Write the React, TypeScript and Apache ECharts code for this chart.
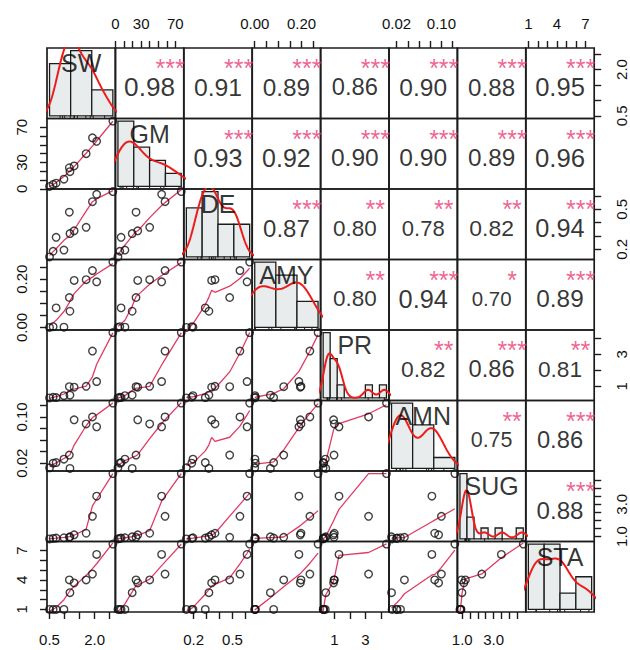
import React, { useEffect, useRef } from "react";
import * as echarts from "echarts";

const VAR_NAMES = ["SW", "GM", "DE", "AMY", "PR", "AMN", "SUG", "STA"];

const SW = [0.5, 0.62, 0.72, 0.98, 1.16, 1.18, 1.32, 1.72, 1.93, 2.07, 2.61];
const GM = [2.8, 5, 6.5, 11, 24, 19.5, 26, 40, 58, 54, 77];
const DE = [0.144, 0.186, 0.29, 0.195, 0.478, 0.318, 0.339, 0.365, 0.557, 0.612, 0.632];
const AMY = [0.0, 0.003, 0.081, 0.001, 0.124, 0.067, 0.195, 0.198, 0.236, 0.189, 0.271];
const PR = [0.28, 0.32, 0.3, 0.42, 0.98, 0.45, 0.95, 1.0, 3.2, 1.3, 4.35];
const AMN = [0.012, 0.02, 0.021, 0.027, 0.034, 0.011, 0.095, 0.088, 0.1, 0.083, 0.124];
const SUG = [0.85, 0.88, 0.9, 0.92, 0.95, 0.98, 1.1, 1.2, 2.25, 3.5, 4.9];
const STA = [1, 1, 1, 1, 4, 2.7, 3.7, 4.0, 4.6, 6.6, 7.65];

// histogram breaks
const SW_BREAKS = [0, 1, 2, 3];
const GM_BREAKS = [0, 20, 40, 60, 80];
const DE_BREAKS = [0, 0.2, 0.4, 0.6, 0.8];
const AMY_BREAKS = [0, 0.1, 0.2, 0.3];
const PR_BREAKS = [0, 0.5, 1, 1.5, 2, 2.5, 3, 3.5, 4, 4.5];
const AMN_BREAKS = [0, 0.05, 0.1, 0.15];
const SUG_BREAKS = [0.5, 1, 1.5, 2, 2.5, 3, 3.5, 4, 4.5, 5];
const STA_BREAKS = [0, 2, 4, 6, 8];

// axis ticks and the labels shown
const SW_TICKS = [0.5, 1, 1.5, 2, 2.5];
const SW_LABELS = [0.5, 2.0];
const GM_TICKS = [0, 10, 20, 30, 40, 50, 60, 70];
const GM_LABELS = [0, 30, 70];
const DE_TICKS = [0.2, 0.3, 0.4, 0.5, 0.6];
const DE_LABELS = [0.2, 0.5];
const AMY_TICKS = [0, 0.05, 0.1, 0.15, 0.2, 0.25];
const AMY_LABELS = [0, 0.2];
const PR_TICKS = [1, 2, 3, 4];
const PR_LABELS = [1, 3];
const AMN_TICKS = [0.02, 0.04, 0.06, 0.08, 0.1, 0.12];
const AMN_LABELS = [0.02, 0.1];
const SUG_TICKS = [1, 1.5, 2, 2.5, 3, 3.5, 4, 4.5];
const SUG_LABELS = [1, 3];
const STA_TICKS = [1, 2, 3, 4, 5, 6, 7];
const STA_LABELS = [1, 4, 7];
const LABEL_DECIMALS = [1, 0, 1, 2, 0, 2, 1, 0];

// correlations (upper triangle, row by row) and significance stars
const CORR_ROWS = [
  [0.98, 0.91, 0.89, 0.86, 0.9, 0.88, 0.95],
  [0.93, 0.92, 0.9, 0.9, 0.89, 0.96],
  [0.87, 0.8, 0.78, 0.82, 0.94],
  [0.8, 0.94, 0.7, 0.89],
  [0.82, 0.86, 0.81],
  [0.75, 0.86],
  [0.88],
];
const STARS_ROWS = [
  ["***", "***", "***", "***", "***", "***", "***"],
  ["***", "***", "***", "***", "***", "***"],
  ["***", "**", "**", "**", "***"],
  ["**", "***", "*", "***"],
  ["**", "***", "**"],
  ["**", "***"],
  ["***"],
];

const VARS = [SW, GM, DE, AMY, PR, AMN, SUG, STA];
const BREAKS = [SW_BREAKS, GM_BREAKS, DE_BREAKS, AMY_BREAKS, PR_BREAKS, AMN_BREAKS, SUG_BREAKS, STA_BREAKS];
const TICKS = [SW_TICKS, GM_TICKS, DE_TICKS, AMY_TICKS, PR_TICKS, AMN_TICKS, SUG_TICKS, STA_TICKS];
const LABELS = [SW_LABELS, GM_LABELS, DE_LABELS, AMY_LABELS, PR_LABELS, AMN_LABELS, SUG_LABELS, STA_LABELS];

// ---- layout / style ----
const CELL_LEFT = 47;
const CELL_TOP = 48;
const CELL_W = 68.4;
const CELL_H = 70.5;
const FONT = "'Liberation Sans', Arial, Helvetica, sans-serif";
const BOX = "#1c1c1c";
const HIST_FILL = "#E8ECEC";
const SMOOTH_COLOR = "#E23A62";
const DENS_COLOR = "#EE1B1B";
const STAR_COLOR = "#E93C76";
const CORR_FONT_BASE = 26.6;

// ---- statistics helpers ----
function padRange(lo: number, hi: number): [number, number] {
  const d = (hi - lo) * 0.04;
  return [lo - d, hi + d];
}

function quantile7(sorted: number[], p: number) {
  const n = sorted.length;
  const h = (n - 1) * p;
  const lo = Math.floor(h);
  const hi = Math.min(lo + 1, n - 1);
  return sorted[lo] + (h - lo) * (sorted[hi] - sorted[lo]);
}

function bwNrd0(x: number[]) {
  const n = x.length;
  const mean = x.reduce((a, b) => a + b, 0) / n;
  const sd = Math.sqrt(x.reduce((a, b) => a + (b - mean) * (b - mean), 0) / (n - 1));
  const s = x.slice().sort((a, b) => a - b);
  const iqr = quantile7(s, 0.75) - quantile7(s, 0.25);
  let lo = Math.min(sd, iqr / 1.34);
  if (!lo) lo = sd || Math.abs(x[0]) || 1;
  return 0.9 * lo * Math.pow(n, -0.2);
}

function densityLine(x: number[]) {
  const n = x.length;
  const bw = bwNrd0(x);
  const mn = Math.min(...x);
  const mx = Math.max(...x);
  const lo = mn - 3 * bw;
  const hi = mx + 3 * bw;
  const pts: number[][] = [];
  const k = 1 / (n * bw * Math.sqrt(2 * Math.PI));
  for (let i = 0; i < 512; i++) {
    const t = lo + ((hi - lo) * i) / 511;
    let s = 0;
    for (const v of x) {
      const z = (t - v) / bw;
      s += Math.exp(-0.5 * z * z);
    }
    pts.push([t, s * k]);
  }
  return pts;
}

function histogram(x: number[], br: number[]) {
  const n = x.length;
  const out: number[][] = [];
  for (let j = 0; j < br.length - 1; j++) {
    let c = 0;
    for (const v of x) {
      if ((v > br[j] && v <= br[j + 1]) || (j === 0 && v === br[0])) c++;
    }
    out.push([br[j], br[j + 1], c / (n * (br[j + 1] - br[j]))]);
  }
  return out;
}

// port of R's clowess (f = 2/3, iter = 3)
function lowess(xs0: number[], ys0: number[], f = 2 / 3, iter = 3): number[][] {
  const n = xs0.length;
  const order = xs0.map((_, i) => i).sort((a, b) => xs0[a] - xs0[b] || a - b);
  const x = order.map((i) => xs0[i]);
  const y = order.map((i) => ys0[i]);
  const ns = Math.max(2, Math.min(n, Math.floor(f * n + 1e-7)));
  const range = x[n - 1] - x[0];
  const delta = 0.01 * range;
  const ysm = new Array(n).fill(0);
  const rw = new Array(n).fill(1);
  const res = new Array(n).fill(0);
  const w = new Array(n).fill(0);

  const lowest = (xs: number, nleft: number, nright: number, userw: boolean): [number, boolean] => {
    const h = Math.max(xs - x[nleft], x[nright] - xs);
    const h9 = 0.999 * h;
    const h1 = 0.001 * h;
    let a = 0;
    let j = nleft;
    while (j < n) {
      w[j] = 0;
      const r = Math.abs(x[j] - xs);
      if (r <= h9) {
        if (r <= h1) w[j] = 1;
        else w[j] = Math.pow(1 - Math.pow(r / h, 3), 3);
        if (userw) w[j] *= rw[j];
        a += w[j];
      } else if (x[j] > xs) break;
      j++;
    }
    const nrt = j - 1;
    if (a <= 0) return [0, false];
    for (j = nleft; j <= nrt; j++) w[j] /= a;
    if (h > 0) {
      a = 0;
      for (j = nleft; j <= nrt; j++) a += w[j] * x[j];
      let b = xs - a;
      let c = 0;
      for (j = nleft; j <= nrt; j++) c += w[j] * (x[j] - a) * (x[j] - a);
      if (Math.sqrt(c) > 0.001 * range) {
        b /= c;
        for (j = nleft; j <= nrt; j++) w[j] *= b * (x[j] - a) + 1;
      }
    }
    let ys = 0;
    for (j = nleft; j <= nrt; j++) ys += w[j] * y[j];
    return [ys, true];
  };

  for (let it = 1; it <= iter + 1; it++) {
    let nleft = 0;
    let nright = ns - 1;
    let last = -1;
    let i = 0;
    for (;;) {
      if (nright < n - 1) {
        const d1 = x[i] - x[nleft];
        const d2 = x[nright + 1] - x[i];
        if (d1 > d2) {
          nleft++;
          nright++;
          continue;
        }
      }
      const [val, ok] = lowest(x[i], nleft, nright, it > 1);
      ysm[i] = ok ? val : y[i];
      if (last < i - 1) {
        const denom = x[i] - x[last];
        for (let j = last + 1; j < i; j++) {
          const alpha = (x[j] - x[last]) / denom;
          ysm[j] = alpha * ysm[i] + (1 - alpha) * ysm[last];
        }
      }
      last = i;
      const cut = x[last] + delta;
      for (i = last + 1; i < n; i++) {
        if (x[i] > cut) break;
        if (x[i] === x[last]) {
          ysm[i] = ysm[last];
          last = i;
        }
      }
      i = Math.max(last + 1, i - 1);
      if (last >= n - 1) break;
    }
    let sc = 0;
    for (let k = 0; k < n; k++) {
      res[k] = y[k] - ysm[k];
      sc += Math.abs(res[k]);
    }
    sc /= n;
    if (it > iter) break;
    const sorted = res.map((r) => Math.abs(r)).sort((a, b) => a - b);
    const m1 = Math.floor(n / 2);
    const cmad = n % 2 === 0 ? 3 * (sorted[m1 - 1] + sorted[m1]) : 6 * sorted[m1];
    if (cmad < 1e-7 * sc) break;
    const c9 = 0.999 * cmad;
    const c1 = 0.001 * cmad;
    for (let k = 0; k < n; k++) {
      const r = Math.abs(res[k]);
      rw[k] = r <= c1 ? 1 : r > c9 ? 0 : Math.pow(1 - (r / cmad) * (r / cmad), 2);
    }
  }
  return x.map((xv, k) => [xv, ysm[k]]);
}

function buildOption() {
  const ranges = VARS.map((v) => padRange(Math.min(...v), Math.max(...v)));
  const hists = VARS.map((v, i) => histogram(v, BREAKS[i]));
  const dens = VARS.map((v) => densityLine(v));

  const grids: any[] = [];
  const xAxes: any[] = [];
  const yAxes: any[] = [];
  const series: any[] = [];

  const tickStyle = { show: true, length: 7, inside: false, lineStyle: { color: BOX, width: 1.4 } };
  const labelStyle = { show: true, fontSize: 15, color: "#111", fontFamily: FONT };

  for (let r = 0; r < 8; r++) {
    for (let c = 0; c < 8; c++) {
      const k = r * 8 + c;
      grids.push({
        left: CELL_LEFT + c * CELL_W,
        top: CELL_TOP + r * CELL_H,
        width: CELL_W,
        height: CELL_H,
        show: true,
        borderColor: BOX,
        borderWidth: 1.7,
        backgroundColor: "transparent",
        containLabel: false,
        outerBoundsMode: "none",
      });

      let xr: number[];
      let yr: number[];
      let maxD = 0;
      if (r === c) {
        const br = BREAKS[c];
        xr = padRange(br[0], br[br.length - 1]);
        maxD = Math.max(...hists[c].map((h) => h[2]));
        yr = [-0.04 * maxD, 1.04 * maxD];
      } else {
        xr = ranges[c];
        yr = ranges[r];
      }

      const xAx: any = {
        type: "value",
        gridIndex: k,
        min: xr[0],
        max: xr[1],
        axisLine: { show: false },
        axisTick: { show: false },
        axisLabel: { show: false },
        splitLine: { show: false },
      };
      const yAx: any = {
        type: "value",
        gridIndex: k,
        min: yr[0],
        max: yr[1],
        axisLine: { show: false },
        axisTick: { show: false },
        axisLabel: { show: false },
        splitLine: { show: false },
      };
      if ((r === 7 && c % 2 === 0) || (r === 0 && c % 2 === 1)) {
        const dec = LABEL_DECIMALS[c];
        xAx.position = r === 7 ? "bottom" : "top";
        xAx.axisTick = { ...tickStyle, customValues: TICKS[c] };
        xAx.axisLabel = {
          ...labelStyle,
          customValues: LABELS[c],
          margin: r === 7 ? 20 : 17,
          formatter: (v: number) => v.toFixed(dec),
        };
      }
      if ((c === 0 && r % 2 === 1) || (c === 7 && r % 2 === 0)) {
        const dec = LABEL_DECIMALS[r];
        yAx.position = c === 0 ? "left" : "right";
        yAx.axisTick = { ...tickStyle, customValues: TICKS[r] };
        yAx.axisLabel = {
          ...labelStyle,
          rotate: 90,
          customValues: LABELS[r],
          margin: c === 0 ? 18 : 20,
          formatter: (v: number) => v.toFixed(dec),
        };
      }
      xAxes.push(xAx);
      yAxes.push(yAx);

      if (r > c) {
        // scatter + lowess smooth
        const xv = VARS[c];
        const yv = VARS[r];
        series.push({
          type: "scatter",
          xAxisIndex: k,
          yAxisIndex: k,
          data: xv.map((v, i) => [v, yv[i]]),
          symbol: "circle",
          symbolSize: 7.5,
          itemStyle: { color: "rgba(0,0,0,0)", borderColor: "#111", borderWidth: 1.4 },
          silent: true,
          z: 3,
        });
        series.push({
          type: "line",
          xAxisIndex: k,
          yAxisIndex: k,
          data: lowess(xv, yv),
          showSymbol: false,
          symbol: "none",
          lineStyle: { color: SMOOTH_COLOR, width: 1.3 },
          silent: true,
          clip: true,
          z: 2,
        });
      } else if (r === c) {
        const yMin = yr[0];
        series.push({
          type: "custom",
          xAxisIndex: k,
          yAxisIndex: k,
          data: hists[c],
          silent: true,
          clip: true,
          z: 2,
          renderItem: (_p: any, api: any) => {
            const a = api.coord([api.value(0), api.value(2)]);
            const b = api.coord([api.value(1), 0]);
            return {
              type: "rect",
              shape: { x: a[0], y: a[1], width: b[0] - a[0], height: b[1] - a[1] },
              style: { fill: HIST_FILL, stroke: BOX, lineWidth: 1.3 },
            };
          },
        });
        series.push({
          type: "custom",
          xAxisIndex: k,
          yAxisIndex: k,
          data: VARS[c].map((v) => [v, yMin]),
          silent: true,
          z: 3,
          renderItem: (_p: any, api: any) => {
            const p = api.coord([api.value(0), yMin]);
            return {
              type: "line",
              shape: { x1: p[0], y1: p[1], x2: p[0], y2: p[1] - 3 },
              style: { stroke: BOX, lineWidth: 1 },
            };
          },
        });
        series.push({
          type: "line",
          xAxisIndex: k,
          yAxisIndex: k,
          data: dens[c],
          showSymbol: false,
          symbol: "none",
          lineStyle: { color: DENS_COLOR, width: 2 },
          silent: true,
          clip: true,
          z: 4,
        });
        series.push({
          type: "scatter",
          xAxisIndex: k,
          yAxisIndex: k,
          symbolSize: 1,
          itemStyle: { color: "rgba(0,0,0,0)" },
          silent: true,
          z: 5,
          data: [
            {
              value: [(xr[0] + xr[1]) / 2, yr[0] + 0.784 * (yr[1] - yr[0])],
              label: {
                show: true,
                position: "inside",
                formatter: VAR_NAMES[c],
                fontSize: 25,
                color: "#000",
                fontFamily: FONT,
              },
            },
          ],
        });
      } else {
        const rv = CORR_ROWS[r][c - r - 1];
        const st = STARS_ROWS[r][c - r - 1];
        series.push({
          type: "scatter",
          xAxisIndex: k,
          yAxisIndex: k,
          symbolSize: 1,
          itemStyle: { color: "rgba(0,0,0,0)" },
          silent: true,
          z: 5,
          data: [
            {
              value: [(xr[0] + xr[1]) / 2, (yr[0] + yr[1]) / 2],
              label: {
                show: true,
                position: "inside",
                formatter: rv.toFixed(2),
                fontSize: (CORR_FONT_BASE * (Math.abs(rv) + 0.3)) / 1.3,
                lineHeight: 20,
                color: "#000",
                fontFamily: FONT,
                offset: [0, 4],
              },
            },
            {
              value: [xr[0] + 0.8 * (xr[1] - xr[0]), yr[0] + 0.8 * (yr[1] - yr[0])],
              label: {
                show: true,
                position: "inside",
                formatter: st,
                fontSize: 25,
                lineHeight: 10,
                color: STAR_COLOR,
                fontFamily: FONT,
                offset: [0, 6],
              },
            },
          ],
        });
      }
    }
  }

  return {
    animation: false,
    backgroundColor: "#fff",
    grid: grids,
    xAxis: xAxes,
    yAxis: yAxes,
    series,
  };
}

export default function App() {
  const ref = useRef<HTMLDivElement>(null);
  useEffect(() => {
    if (!ref.current) return;
    const chart = echarts.init(ref.current, null, { renderer: "svg" });
    chart.setOption(buildOption() as any);
    return () => chart.dispose();
  }, []);
  return (
    <div
      ref={ref}
      style={{ position: "absolute", left: 0, top: 0, width: 630, height: 650, background: "#fff" }}
    />
  );
}
